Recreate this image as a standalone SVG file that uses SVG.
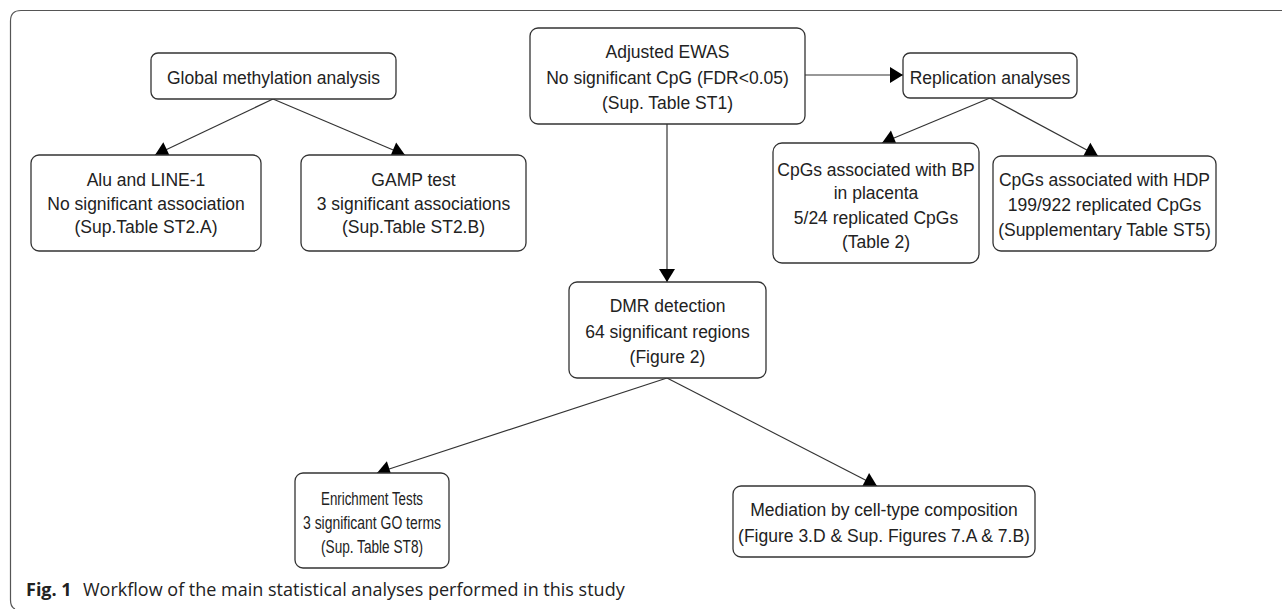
<svg xmlns="http://www.w3.org/2000/svg" width="1282" height="609" viewBox="0 0 1282 609">
<style>
.box{fill:#fff;stroke:#333;stroke-width:1.3}
.t{font-family:"Liberation Sans",Arial,sans-serif;font-size:17.5px;fill:#222;text-anchor:middle}
.c{stroke:#333;stroke-width:1.2;fill:none;marker-end:url(#ah)}
.cap{font-family:"Open Sans","Noto Sans",sans-serif;font-size:18px;fill:#222}
</style>
<defs>
<marker id="ah" markerUnits="userSpaceOnUse" markerWidth="15" markerHeight="18" viewBox="0 0 15 18" refX="14" refY="9" orient="auto">
<path d="M1,1 L14,9 L1,17 Z" fill="#000"/>
</marker>
</defs>
<path id="frame" d="M1282,10.5 H21 Q10.5,10.5 10.5,21 V600 Q10.5,607 15,609" fill="none" stroke="#555" stroke-width="1.2"/>
<g id="connectors">
<line class="c" x1="273" y1="99" x2="155" y2="155"/>
<line class="c" x1="273" y1="99" x2="405" y2="155"/>
<line class="c" x1="805" y1="75" x2="903" y2="75"/>
<line class="c" x1="667" y1="124" x2="667" y2="282"/>
<line class="c" x1="990" y1="98" x2="882" y2="143"/>
<line class="c" x1="990" y1="98" x2="1098" y2="156"/>
<line class="c" x1="667" y1="378" x2="377" y2="473"/>
<line class="c" x1="667" y1="378" x2="877" y2="486"/>
</g>
<g id="global">
<rect class="box" x="151" y="53" width="245" height="46" rx="7"/>
<text class="t" x="273.5" y="84">Global methylation analysis</text>
</g>
<g id="alu">
<rect class="box" x="31" y="155" width="230" height="96" rx="8"/>
<text class="t" x="146" y="185.5">Alu and LINE-1</text>
<text class="t" x="146" y="209.5">No significant association</text>
<text class="t" x="146" y="233">(Sup.Table ST2.A)</text>
</g>
<g id="gamp">
<rect class="box" x="301" y="155" width="225" height="96" rx="8"/>
<text class="t" x="413.5" y="185.5">GAMP test</text>
<text class="t" x="413.5" y="209.5">3 significant associations</text>
<text class="t" x="413.5" y="233">(Sup.Table ST2.B)</text>
</g>
<g id="ewas">
<rect class="box" x="530" y="28" width="275" height="96" rx="8"/>
<text class="t" x="667.5" y="58">Adjusted EWAS</text>
<text class="t" x="667.5" y="84">No significant CpG (FDR&lt;0.05)</text>
<text class="t" x="667.5" y="109">(Sup. Table ST1)</text>
</g>
<g id="replication">
<rect class="box" x="903" y="53" width="174" height="45" rx="7"/>
<text class="t" x="990" y="83.5">Replication analyses</text>
</g>
<g id="bp">
<rect class="box" x="773" y="143" width="206" height="120" rx="9"/>
<text class="t" x="876" y="175.5">CpGs associated with BP</text>
<text class="t" x="876" y="199">in placenta</text>
<text class="t" x="876" y="224">5/24 replicated CpGs</text>
<text class="t" x="876" y="247.5">(Table 2)</text>
</g>
<g id="hdp">
<rect class="box" x="993" y="156" width="223" height="95" rx="8"/>
<text class="t" x="1104.5" y="185.5">CpGs associated with HDP</text>
<text class="t" x="1104.5" y="210.5">199/922 replicated CpGs</text>
<text class="t" x="1104.5" y="235.5">(Supplementary Table ST5)</text>
</g>
<g id="dmr">
<rect class="box" x="569" y="282" width="197" height="96" rx="8"/>
<text class="t" x="667.5" y="312">DMR detection</text>
<text class="t" x="667.5" y="338">64 significant regions</text>
<text class="t" x="667.5" y="363">(Figure 2)</text>
</g>
<g id="enrichment">
<rect class="box" x="295" y="473" width="154" height="95" rx="8"/>
<text class="t" x="372" y="504.5" textLength="102" lengthAdjust="spacingAndGlyphs">Enrichment Tests</text>
<text class="t" x="372" y="529" textLength="138" lengthAdjust="spacingAndGlyphs">3 significant GO terms</text>
<text class="t" x="372" y="553" textLength="102" lengthAdjust="spacingAndGlyphs">(Sup. Table ST8)</text>
</g>
<g id="mediation">
<rect class="box" x="733" y="486" width="302" height="71" rx="8"/>
<text class="t" x="884" y="515.5">Mediation by cell-type composition</text>
<text class="t" x="884" y="541.5">(Figure 3.D &amp; Sup. Figures 7.A &amp; 7.B)</text>
</g>
<text class="cap" x="26" y="596"><tspan font-weight="bold">Fig. 1</tspan><tspan x="83">Workflow of the main statistical analyses performed in this study</tspan></text>
</svg>
